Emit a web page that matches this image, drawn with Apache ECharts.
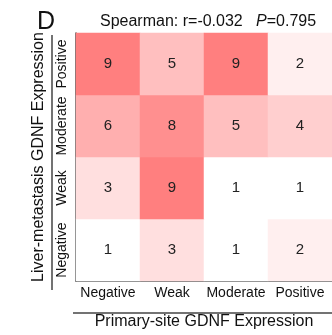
<!DOCTYPE html>
<html>
<head>
<meta charset="utf-8">
<script src="https://cdn.jsdelivr.net/npm/echarts@6/dist/echarts.min.js"></script>
<style>
  html, body { margin: 0; padding: 0; background: #fff; }
  #main { width: 332px; height: 335px; }
</style>
</head>
<body>
<div id="main"></div>
<script>
  // primary-site (x) and liver-metastasis (y) levels
  var xLevels = ['Negative', 'Weak', 'Moderate', 'Positive'];
  var yLevels = ['Negative', 'Weak', 'Moderate', 'Positive'];
  // counts per liver-metastasis row, columns follow xLevels
  var rowNegative = [1, 3, 1, 2];
  var rowWeak = [3, 9, 1, 1];
  var rowModerate = [6, 8, 5, 4];
  var rowPositive = [9, 5, 9, 2];
  var rows = [rowNegative, rowWeak, rowModerate, rowPositive];

  var cells = [];
  rows.forEach(function (row, yi) {
    row.forEach(function (v, xi) {
      cells.push([xi, yi, v]);
    });
  });

  var font = 'Arial, "Liberation Sans", sans-serif';
  var chart = echarts.init(document.getElementById('main'));
  chart.setOption({
    animation: false,
    textStyle: { fontFamily: font },
    title: [{
      text: 'D',
      left: 32, top: 5,
      textStyle: { fontSize: 25, fontWeight: 'normal', color: '#111', fontFamily: font }
    }, {
      text: '{a|Spearman: r=-0.032   }{b|P}{a|=0.795}',
      left: 95, top: 9,
      textStyle: {
        fontWeight: 'normal',
        rich: {
          a: { fontSize: 16, color: '#111', fontWeight: 'normal', fontFamily: font },
          b: { fontSize: 16, color: '#111', fontWeight: 'normal', fontStyle: 'italic', fontFamily: font }
        }
      }
    }],
    grid: { left: 76, top: 33, width: 258, height: 259 },
    xAxis: {
      type: 'category',
      data: xLevels,
      axisLine: { show: true, lineStyle: { color: '#444', width: 1.5 } },
      axisTick: { show: false },
      splitArea: { show: false },
      axisLabel: { interval: 0, color: '#111', fontSize: 14, margin: 5, fontFamily: font },
      name: 'Primary-site GDNF Expression',
      nameLocation: 'middle',
      nameGap: 33,
      nameTextStyle: { color: '#111', fontSize: 16, fontFamily: font }
    },
    yAxis: {
      type: 'category',
      data: yLevels,
      axisLine: { show: true, lineStyle: { color: '#444', width: 1.5 } },
      axisTick: { show: false },
      axisLabel: { interval: 0, color: '#111', fontSize: 14, rotate: 90, margin: 7, align: 'center', verticalAlign: 'bottom', fontFamily: font },
      name: 'Liver-metastasis GDNF Expression',
      nameLocation: 'middle',
      nameGap: 29,
      nameRotate: 90,
      nameTextStyle: { color: '#111', fontSize: 16, fontFamily: font, verticalAlign: 'bottom' }
    },
    visualMap: {
      show: false,
      min: 1,
      max: 9,
      inRange: { color: ['#ffffff', '#ff7f7f'] }
    },
    series: [{
      type: 'heatmap',
      data: cells,
      label: { show: true, color: '#222', fontSize: 15, fontFamily: font },
      itemStyle: { borderWidth: 0 },
      emphasis: { disabled: true }
    }],
    graphic: [{
      type: 'line',
      shape: { x1: 52, y1: 35, x2: 52, y2: 290 },
      style: { stroke: '#444', lineWidth: 1.5 }
    }, {
      type: 'line',
      shape: { x1: 73, y1: 313, x2: 332, y2: 313 },
      style: { stroke: '#444', lineWidth: 1.5 }
    }]
  });
</script>
</body>
</html>
